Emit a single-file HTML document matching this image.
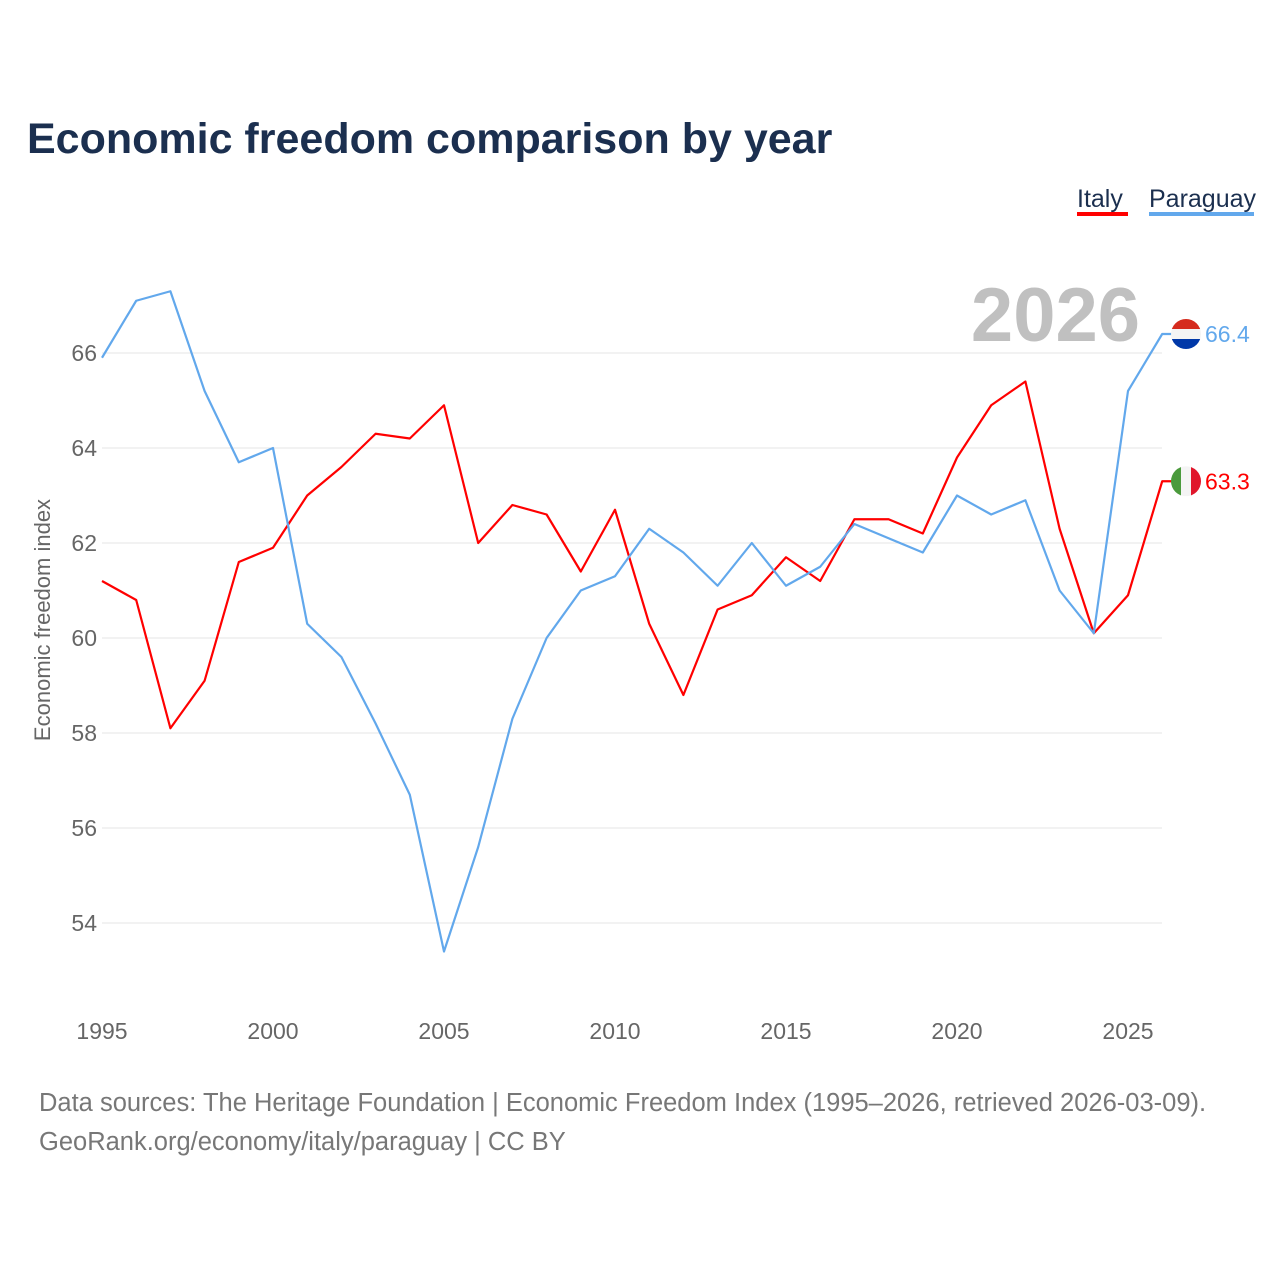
<!DOCTYPE html>
<html><head><meta charset="utf-8"><style>
body{margin:0;background:#fff;font-family:"Liberation Sans",sans-serif;}
#wrap{position:relative;width:1280px;height:1280px;overflow:hidden;}
</style></head><body>
<div id="wrap">
<svg id="chart" width="1280" height="1280">
<text x="27" y="153" font-size="43" font-weight="bold" fill="#1b2f4f">Economic freedom comparison by year</text>
<g>
<text x="1077" y="207" font-size="25" fill="#1b2f4f">Italy</text>
<rect x="1077" y="212" width="51" height="4" fill="#ff0000"/>
<text x="1149" y="207" font-size="25" fill="#1b2f4f">Paraguay</text>
<rect x="1149" y="212" width="105" height="4" fill="#62a8ec"/>
</g>
<text x="1140" y="341" font-size="76" font-weight="bold" fill="#c0c0c0" text-anchor="end">2026</text>
<g id="grid"></g><g id="lines"></g><g id="labels"></g>
<text transform="translate(50,620) rotate(-90)" font-size="22" fill="#666" text-anchor="middle">Economic freedom index</text>
<text x="39" y="1111" font-size="25.5" fill="#777">Data sources: The Heritage Foundation | Economic Freedom Index (1995–2026, retrieved 2026-03-09).</text>
<text x="39" y="1150" font-size="25.5" fill="#777">GeoRank.org/economy/italy/paraguay | CC BY</text>
</svg></div>
<script>
const years=[1995,1996,1997,1998,1999,2000,2001,2002,2003,2004,2005,2006,2007,2008,2009,2010,2011,2012,2013,2014,2015,2016,2017,2018,2019,2020,2021,2022,2023,2024,2025,2026];
const italy=[61.2,60.8,58.1,59.1,61.6,61.9,63.0,63.6,64.3,64.2,64.9,62.0,62.8,62.6,61.4,62.7,60.3,58.8,60.6,60.9,61.7,61.2,62.5,62.5,62.2,63.8,64.9,65.4,62.3,60.1,60.9,63.3];
const paraguay=[65.9,67.1,67.3,65.2,63.7,64.0,60.3,59.6,58.2,56.7,53.4,55.6,58.3,60.0,61.0,61.3,62.3,61.8,61.1,62.0,61.1,61.5,62.4,62.1,61.8,63.0,62.6,62.9,61.0,60.1,65.2,66.4];
const yTicks=[54,56,58,60,62,64,66];
const xTicks=[1995,2000,2005,2010,2015,2020,2025];
const NS="http://www.w3.org/2000/svg";
const X=y=>102+(y-1995)*34.2;
const Y=v=>353+(66-v)*47.5;
function mk(t,a,p){const e=document.createElementNS(NS,t);for(const k in a)e.setAttribute(k,a[k]);p.appendChild(e);return e;}
const grid=document.getElementById('grid'),lines=document.getElementById('lines'),labels=document.getElementById('labels');
yTicks.forEach(v=>{
 const l=mk('line',{x1:102,x2:1162,y1:Y(v),y2:Y(v),stroke:'#e6e6e6','stroke-width':1},grid);
 
 
 const t=mk('text',{x:97,y:Y(v)+8,'font-size':23,fill:'#666','text-anchor':'end'},grid);
 t.textContent=v;
 
 
});
xTicks.forEach(y=>{
 const t=mk('text',{x:X(y),y:1039,'font-size':23,fill:'#666','text-anchor':'middle'},grid);
 t.textContent=y;
 
 
});
function series(vals,color,name,flag){
 const last=vals[vals.length-1],cy=Y(last);
 const d=vals.map((v,i)=>(i?'L':'M')+X(years[i])+','+Y(v)).join(' ')+' L1172,'+cy;
 const p=mk('path',{d:d,fill:'none',stroke:color,'stroke-width':2.2,'stroke-linejoin':'round'},lines);
 
 
 const g=mk('g',{},labels);
 
 
 const cx=1186;
 mk('clipPath',{id:'c'+name},g).appendChild(document.createElementNS(NS,'circle'));
 const cp=g.querySelector('clipPath circle');cp.setAttribute('cx',cx);cp.setAttribute('cy',cy);cp.setAttribute('r',15);
 const cg=mk('g',{'clip-path':'url(#c'+name+')'},g);
 if(flag==='it'){
  mk('rect',{x:cx-15,y:cy-15,width:10,height:30,fill:'#4a9a3c'},cg);
  mk('rect',{x:cx-5,y:cy-15,width:10,height:30,fill:'#f4f4f4'},cg);
  mk('rect',{x:cx+5,y:cy-15,width:10,height:30,fill:'#e0162b'},cg);
 }else{
  mk('rect',{x:cx-15,y:cy-15,width:30,height:10,fill:'#d52b1e'},cg);
  mk('rect',{x:cx-15,y:cy-5,width:30,height:10,fill:'#f4f4f4'},cg);
  mk('rect',{x:cx-15,y:cy+5,width:30,height:10,fill:'#0038a8'},cg);
 }
 const t=mk('text',{x:1205,y:cy+8,'font-size':23,fill:color},labels);
 t.textContent=last.toFixed(1);
 
 
}
series(italy,'#ff0000','italy','it');
series(paraguay,'#62a8ec','paraguay','py');
</script>
</body></html>
